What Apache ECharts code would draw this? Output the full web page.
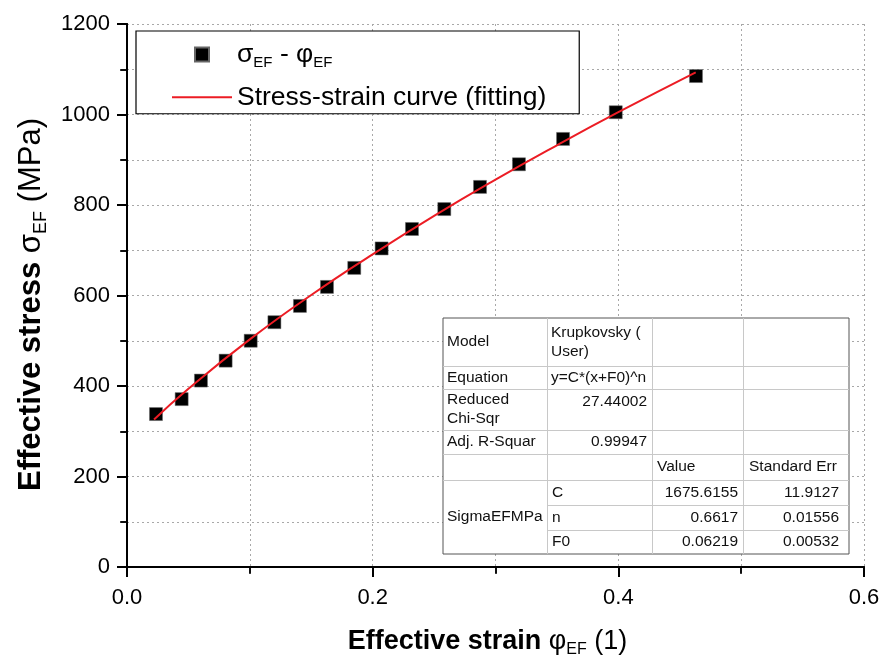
<!DOCTYPE html>
<html>
<head>
<meta charset="utf-8">
<script src="https://cdn.jsdelivr.net/npm/echarts@6/dist/echarts.min.js"></script>
<style>
  html, body { margin: 0; padding: 0; background: #fff; }
  #chart { width: 884px; height: 660px; }
</style>
</head>
<body>
<div id="chart"></div>
<script>
// measured points (sigma_EF vs phi_EF)
var strain = [0.0236, 0.0445, 0.0602, 0.0803, 0.1007, 0.120, 0.1408, 0.1628, 0.185,
              0.2073, 0.232, 0.2583, 0.2874, 0.3191, 0.355, 0.3979, 0.4632];
var stress = [338, 371, 412, 456, 500, 541, 577, 619, 661,
              704, 747, 791, 840, 890, 946, 1005, 1085];

// fitted curve
var fitStrain = [0.022, 0.05, 0.1, 0.15, 0.2, 0.25, 0.3, 0.35, 0.4, 0.463];
var fitStress = [326, 394, 503, 601, 691, 776, 856, 932, 1005, 1093];

var seriesNames = ['σEF - φEF', 'Stress-strain curve (fitting)'];

// fit report table
var tableHead  = ['Model', 'Equation', 'Reduced\nChi-Sqr', 'Adj. R-Squar'];
var tableInfo  = ['Krupkovsky (\nUser)', 'y=C*(x+F0)^n', '27.44002', '0.99947'];
var colHeads   = ['Value', 'Standard Err'];
var paramGroup = 'SigmaEFMPa';
var paramNames = ['C', 'n', 'F0'];
var paramVals  = ['1675.6155', '0.6617', '0.06219'];
var paramErrs  = ['11.9127', '0.01556', '0.00532'];

var FONT = "'Liberation Sans', Arial, sans-serif";

function pairs(xs, ys) {
  var out = [];
  for (var k = 0; k < xs.length; k++) out.push([xs[k], ys[k]]);
  return out;
}

function richSet(size, sub) {
  return {
    b: { fontSize: size, fontWeight: 'bold', fontFamily: FONT, color: '#000', lineHeight: size + 6 },
    n: { fontSize: size, fontFamily: FONT, color: '#000', lineHeight: size + 6 },
    s: { fontSize: sub, fontFamily: FONT, color: '#000', lineHeight: 6, verticalAlign: 'bottom' }
  };
}

function buildTable() {
  var colX = [443, 547, 652, 743, 849],
      rowY = [318, 366, 389, 430, 454, 480, 505, 530, 554];
  var els = [];
  var txt = { fontSize: 15.5, fontFamily: FONT, fill: '#111' };

  function text(str, x, y, align, vAlign) {
    els.push({
      type: 'text', z: 101,
      style: Object.assign({ text: str, x: x, y: y, align: align || 'left',
        verticalAlign: vAlign || 'middle', lineHeight: 19 }, txt)
    });
  }
  function line(x1, y1, x2, y2) {
    els.push({ type: 'line', z: 101, shape: { x1: x1, y1: y1, x2: x2, y2: y2 },
      style: { stroke: '#c8c8c8', lineWidth: 1 } });
  }

  els.push({ type: 'rect', z: 100,
    shape: { x: colX[0], y: rowY[0], width: colX[4] - colX[0], height: rowY[8] - rowY[0] },
    style: { fill: '#fff', stroke: '#555', lineWidth: 1 } });

  // horizontal rules
  for (var r = 1; r < 8; r++) {
    var start = (r === 6 || r === 7) ? colX[1] : colX[0];
    line(start, rowY[r] + 0.5, colX[4], rowY[r] + 0.5);
  }
  // vertical rules
  for (var c = 1; c < 4; c++) line(colX[c] + 0.5, rowY[0], colX[c] + 0.5, rowY[8]);

  for (var i = 0; i < tableHead.length; i++) {
    var mid = (rowY[i] + rowY[i + 1]) / 2;
    text(tableHead[i], colX[0] + 4, mid);
    if (i < 2) text(tableInfo[i], colX[1] + 4, mid);
    else if (i === 2) text(tableInfo[i], colX[2] - 5, rowY[i] + 3, 'right', 'top');
    else text(tableInfo[i], colX[2] - 5, mid, 'right');
  }
  text(colHeads[0], colX[2] + 5, (rowY[4] + rowY[5]) / 2);
  text(colHeads[1], colX[3] + 6, (rowY[4] + rowY[5]) / 2);
  text(paramGroup, colX[0] + 4, (rowY[5] + rowY[8]) / 2);
  for (var p = 0; p < paramNames.length; p++) {
    var m = (rowY[5 + p] + rowY[6 + p]) / 2;
    text(paramNames[p], colX[1] + 5, m);
    text(paramVals[p], colX[3] - 5, m, 'right');
    text(paramErrs[p], colX[4] - 10, m, 'right');
  }
  return els;
}

var chart = echarts.init(document.getElementById('chart'));

var dotted = { show: true, lineStyle: { color: '#a8a8a8', type: [2, 3], width: 1 } };
var tickStyle = { color: '#000', width: 2 };

var option = {
  animation: false,
  backgroundColor: '#fff',
  grid: { left: 127, right: 20, top: 24, bottom: 93, outerBoundsMode: 'none', containLabel: false },
  legend: {
    orient: 'vertical',
    left: 136, top: 31,
    padding: [10, 33, 3, 36],
    itemWidth: 60, itemHeight: 14, itemGap: 13,
    backgroundColor: '#fff',
    borderColor: '#000', borderWidth: 1.2,
    symbolKeepAspect: true,
    z: 50,
    data: [
      { name: seriesNames[0], icon: 'path://M0,0h10v10h-10z' },
      { name: seriesNames[1], icon: 'path://M0,0h60v2h-60z' }
    ],
    formatter: function(name) {
      if (name === seriesNames[0]) return '{n|σ}{s|EF}{n| - φ}{s|EF}';
      return '{n|' + name + '}';
    },
    textStyle: { rich: richSet(26.5, 15) }
  },
  xAxis: [{
    type: 'value', min: 0, max: 0.6, interval: 0.2,
    name: '{b|Effective strain }{n|φ}{s|EF}{n| (1)}',
    nameLocation: 'middle', nameGap: 58,
    nameTextStyle: { rich: richSet(27, 16), padding: [0, 16, 0, 0] },
    axisLine: { show: true, onZero: false, lineStyle: tickStyle },
    axisTick: { show: true, inside: false, length: 10, lineStyle: tickStyle },
    minorTick: { show: true, splitNumber: 2, length: 7, lineStyle: { color: '#000', width: 1.5 } },
    axisLabel: { fontSize: 22, fontFamily: FONT, color: '#000', margin: 20,
      formatter: function(v) { return v.toFixed(1); } },
    splitLine: dotted,
    minorSplitLine: dotted
  }, {
    type: 'value', min: 0, max: 0.6, interval: 0.2, position: 'top',
    axisLine: { show: true, lineStyle: tickStyle },
    axisTick: { show: true, inside: true, length: 8, lineStyle: tickStyle },
    minorTick: { show: true, splitNumber: 2, length: 6, lineStyle: { color: '#000', width: 1.5 } },
    axisLabel: { show: false },
    splitLine: { show: false }
  }],
  yAxis: [{
    type: 'value', min: 0, max: 1200, interval: 200,
    name: '{b|Effective stress }{n|σ}{s|EF}{n| (MPa)}',
    nameLocation: 'middle', nameGap: 69,
    nameTextStyle: { rich: richSet(31, 18), padding: [0, 18, 0, 0] },
    axisLine: { show: true, onZero: false, lineStyle: tickStyle },
    axisTick: { show: true, inside: false, length: 10, lineStyle: tickStyle },
    minorTick: { show: true, splitNumber: 2, length: 7, lineStyle: { color: '#000', width: 1.5 } },
    axisLabel: { fontSize: 22, fontFamily: FONT, color: '#000', margin: 17,
      formatter: function(v) { return String(v); } },
    splitLine: dotted,
    minorSplitLine: dotted
  }, {
    type: 'value', min: 0, max: 1200, interval: 200, position: 'right',
    axisLine: { show: true, lineStyle: tickStyle },
    axisTick: { show: true, inside: true, length: 8, lineStyle: tickStyle },
    minorTick: { show: true, splitNumber: 2, length: 6, lineStyle: { color: '#000', width: 1.5 } },
    axisLabel: { show: false },
    splitLine: { show: false }
  }],
  series: [{
    name: seriesNames[0],
    type: 'scatter',
    symbol: 'rect', symbolSize: 13,
    itemStyle: { color: '#000', borderColor: '#666', borderWidth: 0.5, opacity: 1 },
    data: pairs(strain, stress),
    z: 3
  }, {
    name: seriesNames[1],
    type: 'line',
    smooth: true,
    symbol: 'none', showSymbol: false,
    lineStyle: { color: '#ec1c24', width: 2 },
    itemStyle: { color: '#ec1c24' },
    data: pairs(fitStrain, fitStress),
    z: 4
  }],
  graphic: buildTable()
};

chart.setOption(option);
</script>
</body>
</html>
